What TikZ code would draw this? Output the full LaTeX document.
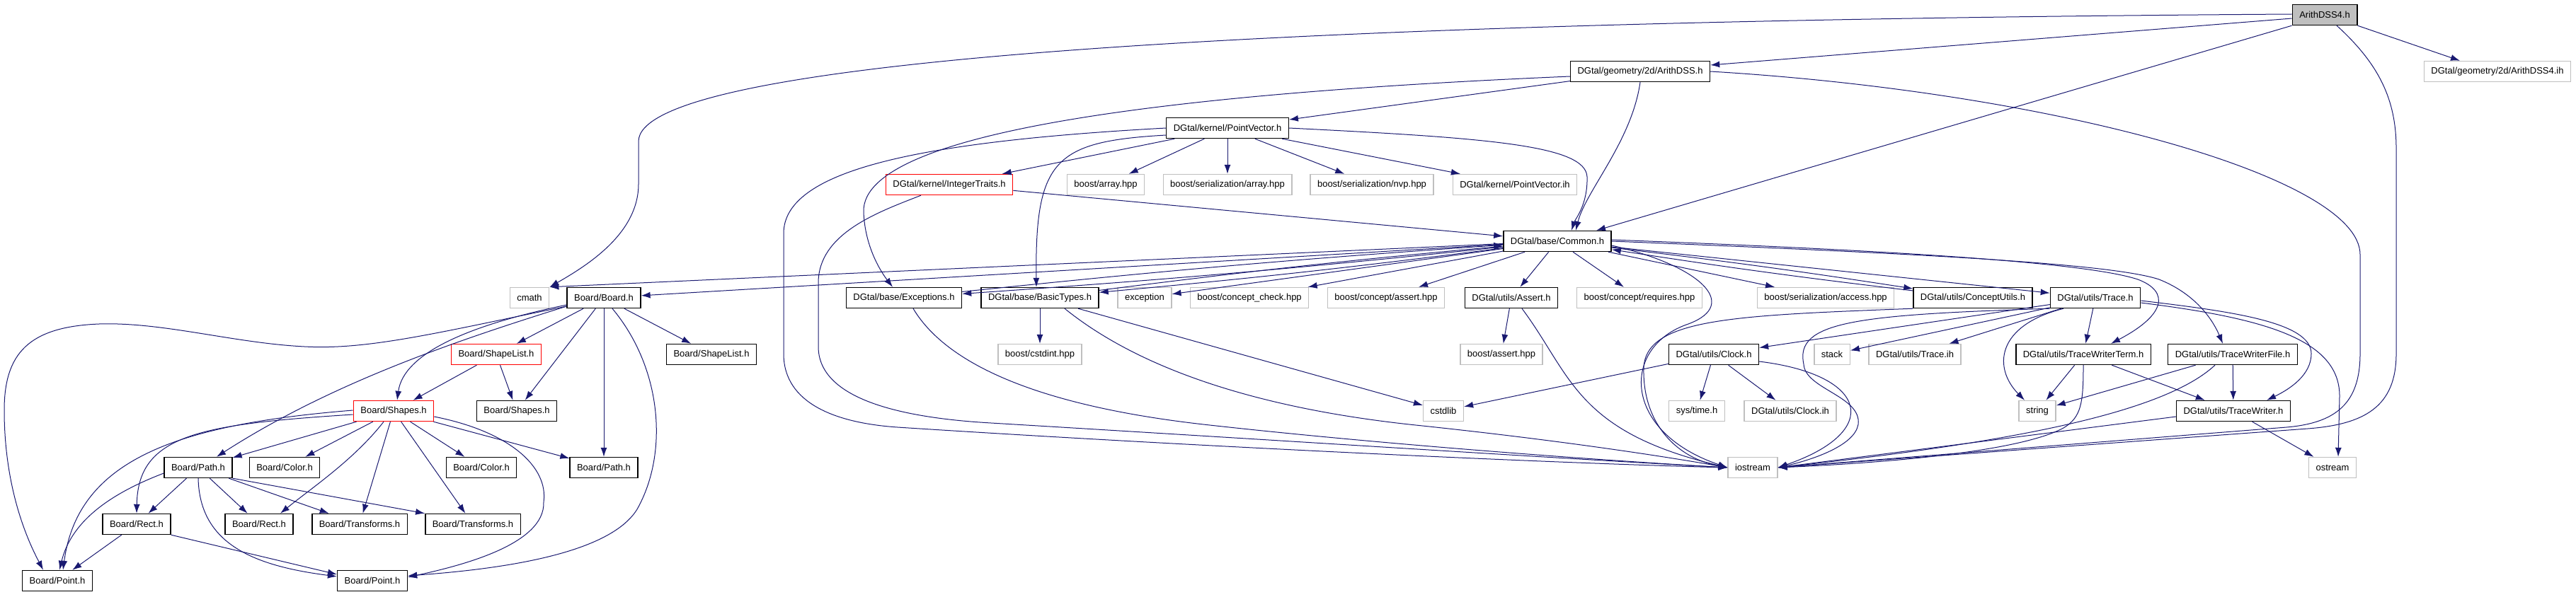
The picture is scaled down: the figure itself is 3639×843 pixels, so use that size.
\documentclass[tikz,border=0pt]{standalone}
\usepackage{fontspec}
\setmainfont{Liberation Sans}
\usetikzlibrary{arrows.meta}
\definecolor{DoxEdge}{HTML}{191970}
\definecolor{DoxGray}{HTML}{BFBFBF}
\definecolor{DoxRed}{HTML}{FF0000}

\begin{document}
\begin{tikzpicture}[
  x=1pt, y=-1pt, every node/.style={font=\fontsize{13}{15}\selectfont},
  hdr/.style={rectangle, draw=black, fill=white, line width=1.4pt,
              minimum height=29pt, inner xsep=10pt, inner ysep=0pt},
  extbox/.style={hdr, draw=DoxGray},
  cutbox/.style={hdr, draw=DoxRed},
  rootbox/.style={hdr, fill=DoxGray},
  dep/.style={-{Latex[length=13pt,width=9pt]}, draw=DoxEdge, line width=1pt},
]
\useasboundingbox (0,0) rectangle (3639,843);

% headers, rank by rank
\node[rootbox] (root) at (3284,21) {ArithDSS4.h};
\node[hdr] (arithdss) at (2317,101) {DGtal/geometry/2d/ArithDSS.h};
\node[extbox] (arithdssih) at (3528,101) {DGtal/geometry/2d/ArithDSS4.ih};
\node[hdr] (pointvec) at (1734,181) {DGtal/kernel/PointVector.h};
\node[cutbox] (inttraits) at (1341,261) {DGtal/kernel/IntegerTraits.h};
\node[extbox] (boostarray) at (1562,261) {boost/array.hpp};
\node[extbox] (serarray) at (1734,261) {boost/serialization/array.hpp};
\node[extbox] (sernvp) at (1938,261) {boost/serialization/nvp.hpp};
\node[extbox] (pointvecih) at (2140,261) {DGtal/kernel/PointVector.ih};
\node[hdr] (common) at (2200,341) {DGtal/base/Common.h};
\node[extbox] (cmath) at (748,421) {cmath};
\node[hdr] (board) at (853,421) {Board/Board.h};
\node[hdr] (exceptions) at (1277,421) {DGtal/base/Exceptions.h};
\node[hdr] (basictypes) at (1469,421) {DGtal/base/BasicTypes.h};
\node[extbox] (exception) at (1617,421) {exception};
\node[extbox] (conceptcheck) at (1765,421) {boost/concept\_check.hpp};
\node[extbox] (conceptassert) at (1958,421) {boost/concept/assert.hpp};
\node[hdr] (assert) at (2135,421) {DGtal/utils/Assert.h};
\node[extbox] (requires) at (2316,421) {boost/concept/requires.hpp};
\node[extbox] (seraccess) at (2579,421) {boost/serialization/access.hpp};
\node[hdr] (conceptutils) at (2787,421) {DGtal/utils/ConceptUtils.h};
\node[hdr] (trace) at (2960,421) {DGtal/utils/Trace.h};
\node[cutbox] (shapelistR) at (701,501) {Board/ShapeList.h};
\node[hdr] (shapelist) at (1005,501) {Board/ShapeList.h};
\node[extbox] (cstdint) at (1469,501) {boost/cstdint.hpp};
\node[extbox] (boostassert) at (2121,501) {boost/assert.hpp};
\node[hdr] (clock) at (2421,501) {DGtal/utils/Clock.h};
\node[extbox] (stack) at (2588,501) {stack};
\node[extbox] (traceih) at (2705,501) {DGtal/utils/Trace.ih};
\node[hdr] (twterm) at (2943,501) {DGtal/utils/TraceWriterTerm.h};
\node[hdr] (twfile) at (3154,501) {DGtal/utils/TraceWriterFile.h};
\node[cutbox] (shapesR) at (556,581) {Board/Shapes.h};
\node[hdr] (shapes) at (730,581) {Board/Shapes.h};
\node[extbox] (cstdlib) at (2039,581) {cstdlib};
\node[extbox] (systime) at (2397,581) {sys/time.h};
\node[extbox] (clockih) at (2529,581) {DGtal/utils/Clock.ih};
\node[extbox] (string) at (2878,581) {string};
\node[hdr] (tracewriter) at (3155,581) {DGtal/utils/TraceWriter.h};
\node[hdr] (pathA) at (280,661) {Board/Path.h};
\node[hdr] (colorA) at (402,661) {Board/Color.h};
\node[hdr] (colorB) at (680,661) {Board/Color.h};
\node[hdr] (pathB) at (853,661) {Board/Path.h};
\node[extbox] (iostream) at (2476,661) {iostream};
\node[extbox] (ostream) at (3295,661) {ostream};
\node[hdr] (rectA) at (193,741) {Board/Rect.h};
\node[hdr] (rectB) at (366,741) {Board/Rect.h};
\node[hdr] (transA) at (508,741) {Board/Transforms.h};
\node[hdr] (transB) at (668,741) {Board/Transforms.h};
\node[hdr] (pointA) at (81,821) {Board/Point.h};
\node[hdr] (pointB) at (526,821) {Board/Point.h};

% ArithDSS4.h
\draw[dep] ([yshift=1]root.west) .. controls (1700,30) and (902,90) .. (902,200)
  -- (902,260) .. controls (902,330) and (830,375) .. (cmath.north east);
\draw[dep] ([yshift=-5]root.west) -- ([yshift=9]arithdss.east);
\draw[dep] (root.south west) -- ([xshift=55]common.north);
\draw[dep] ([xshift=17]root.south) .. controls (3360,90) and (3385,140) .. (3385,210)
  -- (3385,500) .. controls (3385,575) and (3340,600) .. (3260,606) -- (iostream.east);
\draw[dep] (root.south east) -- ([xshift=-53]arithdssih.north);

% ArithDSS.h
\draw[dep] (arithdss) -- (pointvec);
\draw[dep] ([yshift=-7]arithdss.west) .. controls (1700,130) and (1215,180) .. (1220,300)
  .. controls (1222,350) and (1245,385) .. ([xshift=-16]exceptions.north);
\draw[dep] (arithdss.south) .. controls (2305,200) and (2240,270) .. ([xshift=26]common.north);
\draw[dep] (arithdss.east) .. controls (2900,130) and (3334,250) .. (3334,360)
  -- (3334,500) .. controls (3334,570) and (3300,598) .. (3230,604) -- (iostream.east);

% PointVector.h and IntegerTraits.h
\foreach \dst in {inttraits,boostarray,serarray,sernvp,pointvecih} {\draw[dep] (pointvec) -- (\dst);}
\draw[dep] (pointvec.east) .. controls (2100,195) and (2240,205) .. (2242,250)
  .. controls (2243,290) and (2225,310) .. ([xshift=20]common.north);
\draw[dep] ([yshift=-10]pointvec.west) .. controls (1490,200) and (1462,225) .. ([xshift=-5]basictypes.north);
\draw[dep] (pointvec.west) .. controls (1300,200) and (1107,240) .. (1107,330)
  -- (1107,500) .. controls (1107,570) and (1180,598) .. (1268,604)
  .. controls (1700,632) and (2200,655) .. (iostream.west);
\draw[dep] (inttraits) -- (common);
\draw[dep] ([xshift=-40]inttraits.south) .. controls (1240,300) and (1156,330) .. (1156,400)
  -- (1156,490) .. controls (1156,560) and (1260,590) .. (1400,598)
  .. controls (1800,622) and (2200,648) .. (iostream.west);

% Common.h
\draw[dep] (common) -- (cmath.north east);
\draw[dep] (common) -- (board);
\foreach \dst in {exceptions,basictypes,conceptutils} {
  \draw[dep] (common) to[bend left=1] (\dst);
  \draw[dep] (\dst) to[bend left=1] (common);}
\foreach \dst in {exception,conceptcheck,conceptassert,assert,requires,seraccess,trace} {\draw[dep] (common) -- (\dst);}
\draw[dep] ([yshift=2]common.east) .. controls (2700,355) and (2950,372) .. (3020,395)
  .. controls (3065,412) and (3060,445) .. ([xshift=39]twterm.north);
\draw[dep] (common.east) .. controls (2700,358) and (2980,372) .. (3050,395)
  .. controls (3100,415) and (3125,450) .. ([xshift=-14]twfile.north);
\draw[dep] ([yshift=-6]common.east) .. controls (2400,375) and (2460,430) .. (2385,458)
  .. controls (2290,490) and (2290,610) .. (iostream.west);

% base headers
\draw[dep] ([xshift=13]exceptions.south) .. controls (1340,520) and (1480,575) .. (1700,600)
  .. controls (1950,628) and (2250,650) .. (iostream.west);
\draw[dep] (basictypes) -- (cstdint);
\draw[dep] (basictypes) -- (cstdlib);
\draw[dep] ([xshift=35]basictypes.south) .. controls (1620,530) and (1800,580) .. (2000,601)
  .. controls (2200,622) and (2350,645) .. (iostream.west);
\draw[dep] (assert) -- (boostassert);
\draw[dep] ([xshift=15]assert.south) .. controls (2220,530) and (2225,610) .. (iostream.west);
\draw[dep] (conceptutils.south west) .. controls (2450,446) and (2325,450) .. (2322,520)
  .. controls (2320,600) and (2370,648) .. (iostream.west);

% Trace.h and writers
\foreach \dst in {clock,stack,traceih,twterm} {\draw[dep] (trace) -- (\dst);}
\draw[dep] ([xshift=-45]trace.south) .. controls (2820,460) and (2815,520) .. ([xshift=-18]string.north);
\draw[dep] ([yshift=-4]trace.east) .. controls (3150,440) and (3265,455) .. (3265,500)
  .. controls (3265,530) and (3235,550) .. ([xshift=47]tracewriter.north);
\draw[dep] ([yshift=-7]trace.east) .. controls (3200,450) and (3305,480) .. (3305,560)
  -- ([xshift=8]ostream.north);
\draw[dep] (trace.south west) .. controls (2620,445) and (2535,455) .. (2548,515)
  .. controls (2550,550) and (2630,560) .. (2625,600)
  .. controls (2620,630) and (2560,650) .. (iostream.east);
\foreach \dst in {cstdlib,systime,clockih} {\draw[dep] (clock) -- (\dst);}
\draw[dep] ([yshift=-10]clock.east) .. controls (2640,530) and (2660,610) .. (iostream.east);
\draw[dep] (twterm) -- (string);
\draw[dep] (twterm) -- (tracewriter);
\draw[dep] (twterm.south) .. controls (2943,570) and (2940,590) .. (2915,605)
  .. controls (2850,640) and (2650,655) .. (iostream.east);
\draw[dep] (twfile) -- (string);
\draw[dep] (twfile) -- (tracewriter);
\draw[dep] ([xshift=-25]twfile.south) .. controls (3050,590) and (2800,630) .. (iostream.east);
\draw[dep] (tracewriter) -- (ostream);
\draw[dep] ([yshift=-8]tracewriter.west) -- (iostream.east);

% Board.h
\draw[dep] ([yshift=-12]board.west) .. controls (620,470) and (520,495) .. (430,490)
  .. controls (330,485) and (230,455) .. (140,458) .. controls (40,462) and (6,500) .. (6,580)
  .. controls (6,700) and (45,775) .. ([xshift=-20]pointA.north);
\draw[dep] ([yshift=-12]board.west) .. controls (650,480) and (470,540) .. ([xshift=26]pathA.north);
\draw[dep] ([yshift=-10]board.west) .. controls (660,460) and (570,500) .. ([xshift=5]shapesR.north);
\foreach \dst in {shapelistR,shapes,pathB,shapelist} {\draw[dep] (board) -- (\dst);}
\draw[dep] ([xshift=12]board.south) .. controls (935,520) and (945,640) .. (900,720)
  .. controls (860,785) and (700,805) .. ([yshift=7]pointB.east);

% Board shapes
\foreach \dst in {shapesR,shapes} {\draw[dep] (shapelistR) -- (\dst);}
\foreach \dst in {pathA,colorA,transA,transB,colorB,pathB} {\draw[dep] (shapesR) -- (\dst);}
\draw[dep] ([xshift=-14]shapesR.south) .. controls (500,650) and (440,690) .. ([xshift=30]rectB.north);
\draw[dep] ([yshift=1]shapesR.west) .. controls (250,600) and (110,650) .. ([xshift=8]pointA.north);
\draw[dep] ([yshift=-5]shapesR.west) .. controls (280,600) and (195,615) .. (rectA.north);
\draw[dep] ([yshift=-8]shapesR.east) .. controls (720,610) and (775,660) .. (768,710)
  .. controls (770,770) and (650,800) .. ([yshift=5]pointB.east);
\foreach \dst in {rectA,rectB,transA} {\draw[dep] (pathA) -- (\dst);}
\draw[dep] (pathA.south east) -- (transB.north west);
\draw[dep] ([yshift=-8]pathA.west) .. controls (150,700) and (100,740) .. ([xshift=3]pointA.north);
\draw[dep] (pathA.south) .. controls (282,770) and (360,800) .. ([yshift=6]pointB.west);
\draw[dep] (rectA) -- (pointA);
\draw[dep] (rectA.south east) -- ([yshift=9]pointB.west);
\end{tikzpicture}
\end{document}
